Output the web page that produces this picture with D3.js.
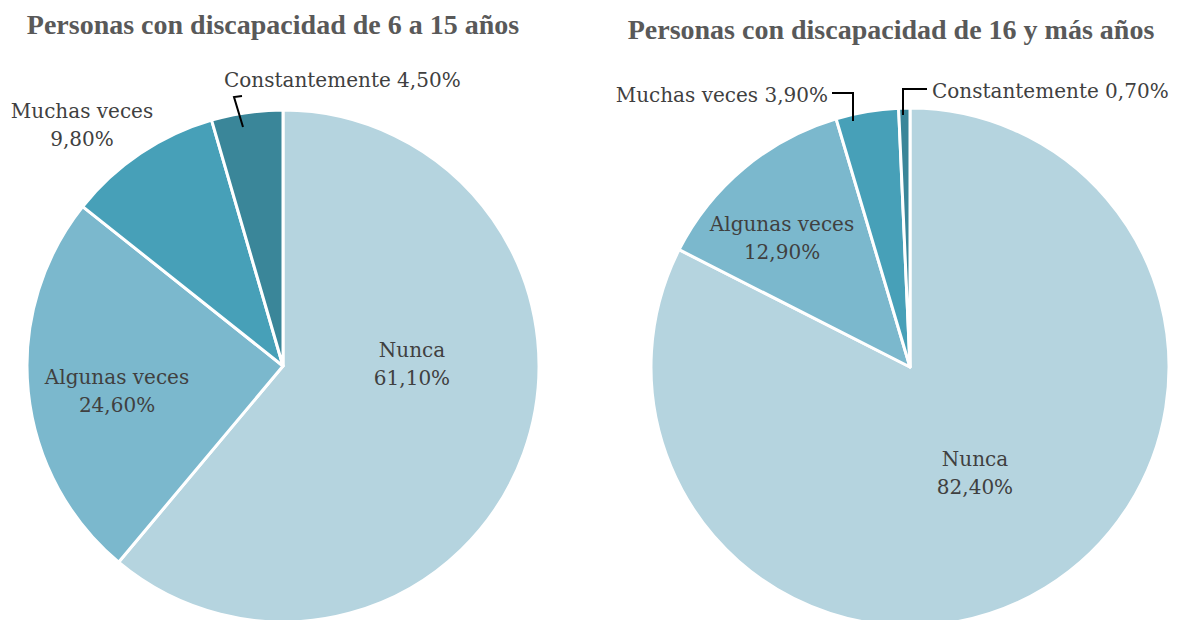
<!DOCTYPE html>
<html>
<head>
<meta charset="utf-8">
<script src="https://cdn.jsdelivr.net/npm/d3@7"></script>
<style>
  body { margin: 0; background: #fff; }
  svg { display: block; }
</style>
</head>
<body>
<div id="chart"></div>
<script>
// data
var categories = ['Nunca', 'Algunas veces', 'Muchas veces', 'Constantemente'];
var titles = ['Personas con discapacidad de 6 a 15 años', 'Personas con discapacidad de 16 y más años'];
var values6a15 = [61.1, 24.6, 9.8, 4.5];
var values16mas = [82.4, 12.9, 3.9, 0.7];
var colors = ['#b5d4df', '#7bb8cd', '#47a0b8', '#3a8699'];

// layout (label placement relative to the pie centre, Excel "best fit")
var pies = [
    {
        values: values6a15, title: titles[0], cx: 283, cy: 366, r: 256, titleX: 273, titleY: 34,
        labels: [
            { x: 129, y: -16, lines: ['Nunca', '61,10%'] },
            { x: -166, y: 11, lines: ['Algunas veces', '24,60%'] },
            { x: -201, y: -255, lines: ['Muchas veces', '9,80%'] },
            { x: -59, y: -286, lines: ['Constantemente 4,50%'], anchor: 'start' }
        ],
        leaders: [null, null, null, [[-40, -239], [-49, -269], [-41, -270]]]
    },
    {
        values: values16mas, title: titles[1], cx: 910, cy: 367, r: 259, titleX: 891, titleY: 39,
        labels: [
            { x: 65, y: 92, lines: ['Nunca', '82,40%'] },
            { x: -128, y: -143, lines: ['Algunas veces', '12,90%'] },
            { x: -82, y: -272, lines: ['Muchas veces 3,90%'], anchor: 'end' },
            { x: 22, y: -276, lines: ['Constantemente 0,70%'], anchor: 'start' }
        ],
        leaders: [null, null, [[-57, -246], [-57, -274], [-78, -274]], [[-7, -252], [-7, -278], [17, -278]]]
    }
];

var svg = d3.select('#chart')
    .append('svg')
    .attr('width', 1181)
    .attr('height', 620);

var pie = d3.pie().sort(null).value(d => d);

pies.forEach(function(p) {
    svg.append('text')
        .attr('x', p.titleX)
        .attr('y', p.titleY)
        .attr('text-anchor', 'middle')
        .attr('font-family', 'Liberation Serif')
        .attr('font-weight', 'bold')
        .attr('font-size', '28px')
        .attr('fill', '#595959')
        .text(p.title);

    var g = svg.append('g')
        .attr('transform', 'translate(' + p.cx + ', ' + p.cy + ')');

    var arc = d3.arc().innerRadius(0).outerRadius(p.r);

    g.selectAll('path')
        .data(pie(p.values))
        .enter()
        .append('path')
        .attr('d', arc)
        .attr('fill', (d, i) => colors[i])
        .attr('stroke', '#fff')
        .attr('stroke-width', 3)
        .attr('stroke-linejoin', 'round');

    p.leaders.forEach(function(pts) {
        if (!pts) return;
        g.append('path')
            .attr('d', d3.line()(pts))
            .attr('fill', 'none')
            .attr('stroke', '#000')
            .attr('stroke-width', 2);
    });

    p.labels.forEach(function(l) {
        var t = g.append('text')
            .attr('font-family', 'DejaVu Serif')
            .attr('font-size', '20px')
            .attr('fill', '#404040')
            .attr('text-anchor', l.anchor || 'middle');
        l.lines.forEach(function(s, k) {
            t.append('tspan')
                .attr('x', l.x)
                .attr('y', l.y + 7 + k * 28)
                .text(s);
        });
    });
});
</script>
</body>
</html>
